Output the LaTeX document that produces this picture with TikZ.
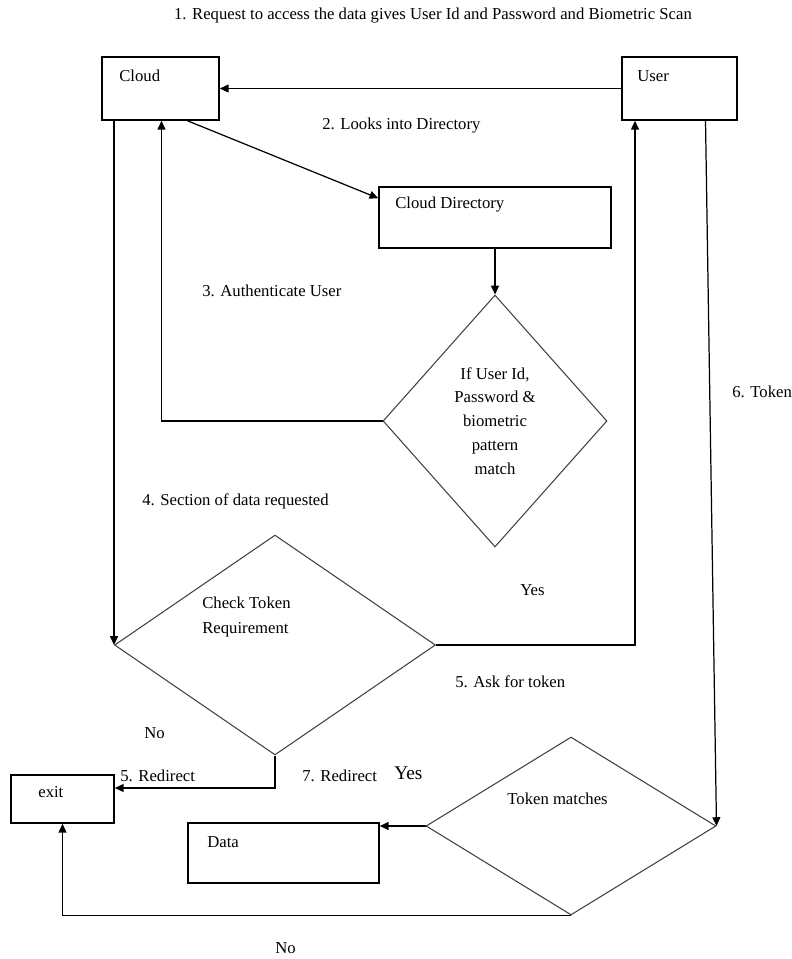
\documentclass[tikz,border=0pt]{standalone}
\usepackage{fontspec}
\setmainfont{Liberation Serif}
\usetikzlibrary{shapes.geometric,calc,arrows.meta}
\begin{document}
\begin{tikzpicture}[x=0.02cm, y=-0.02cm,
        box/.style={draw, line width=0.9pt, rectangle, inner sep=0pt},
        decision/.style={diamond, draw, black!75, line width=0.6pt, inner sep=0pt},
        txt/.style={anchor=west, inner sep=0pt, font=\fontsize{9.5}{13.6}\selectfont},
        flow/.style={draw, line width=0.7pt, -{Triangle[length=5pt,width=4.5pt]}},
        line/.style={draw, line width=0.7pt},
    ]
    \useasboundingbox (0,0) rectangle (791,959);
	\node[box, minimum width=2.34cm, minimum height=1.26cm] (cloud) at (160.5,88.5) {};
	\node[box, minimum width=2.30cm, minimum height=1.26cm] (user) at (679.5,88.5) {};
	\node[box, minimum width=4.64cm, minimum height=1.22cm] (dir) at (495,217.5) {};
	\node[box, minimum width=2.06cm, minimum height=0.96cm] (exit) at (62.5,799) {};
	\node[box, minimum width=3.82cm, minimum height=1.20cm] (data) at (283.5,853) {};
	\node[decision, minimum width=4.48cm, minimum height=5.04cm] (auth) at (495,421) {};
	\node[decision, minimum width=6.42cm, minimum height=4.40cm] (chk) at (275,645) {};
	\node[decision, minimum width=5.80cm, minimum height=3.56cm] (tok) at (571,826) {};
	\draw[flow] (user) -- (cloud);
	\draw[flow] ($(cloud.south)+(27,0)$) -- ($(dir.north west)+(0,12)$);
	\draw[flow] (dir.south) -- (auth.north);
	\draw[flow] (auth.west) -| ($(cloud.south)+(1,0)$);
	\draw[flow] (chk.west |- cloud.south) -- (chk.west);
	\draw[flow] (chk.east) -| ($(user.south)+(-44.5,0)$);
	\draw[flow] ($(user.south)+(26,0)$) -- (tok.east);
	\draw[flow] (chk.south) |- ($(exit.east)+(0,-11)$);
	\draw[flow] (tok.west) -- (tok.west -| data.east);
	\draw[flow] (tok.south) -| (exit.south);
	\node[txt, anchor=center] (t1) at (433,16) {1. Request to access the data gives User Id and Password and Biometric Scan};
	\node[txt] (t2) at (322,126) {2. Looks into Directory};
	\node[txt] (t3) at (202,291) {3. Authenticate User};
	\node[txt] (t4) at (142,501) {4. Section of data requested};
	\node[txt] (yes1) at (520,590) {Yes};
	\node[txt] (t5) at (455,682) {5. Ask for token};
	\node[txt] (no1) at (144,733) {No};
	\node[txt] (t5r) at (120,776) {5. Redirect};
	\node[txt] (t7) at (302,776) {7. Redirect};
	\node[txt, font=\fontsize{11}{13}\selectfont] (yes2) at (394,773) {Yes};
	\node[txt] (t6) at (732,392) {6. Token};
	\node[txt] (no2) at (275,948) {No};
	\node[txt] (cloud_t) at (119,76) {Cloud};
	\node[txt] (user_t) at (637,76) {User};
	\node[txt] (dir_t) at (395,205) {Cloud Directory};
	\node[txt] (exit_t) at (38,792) {exit};
	\node[txt] (data_t) at (207,842) {Data};
	\node[txt, anchor=center, align=center] (auth_t) at (495,421) {If User Id,\\Password \&\\biometric\\pattern\\match};
	\node[txt, align=left] (chk_t) at (202,617) {Check Token\\[1pt]Requirement};
	\node[txt] (tok_t) at (507,799) {Token matches};
    \end{tikzpicture}
\end{document}
